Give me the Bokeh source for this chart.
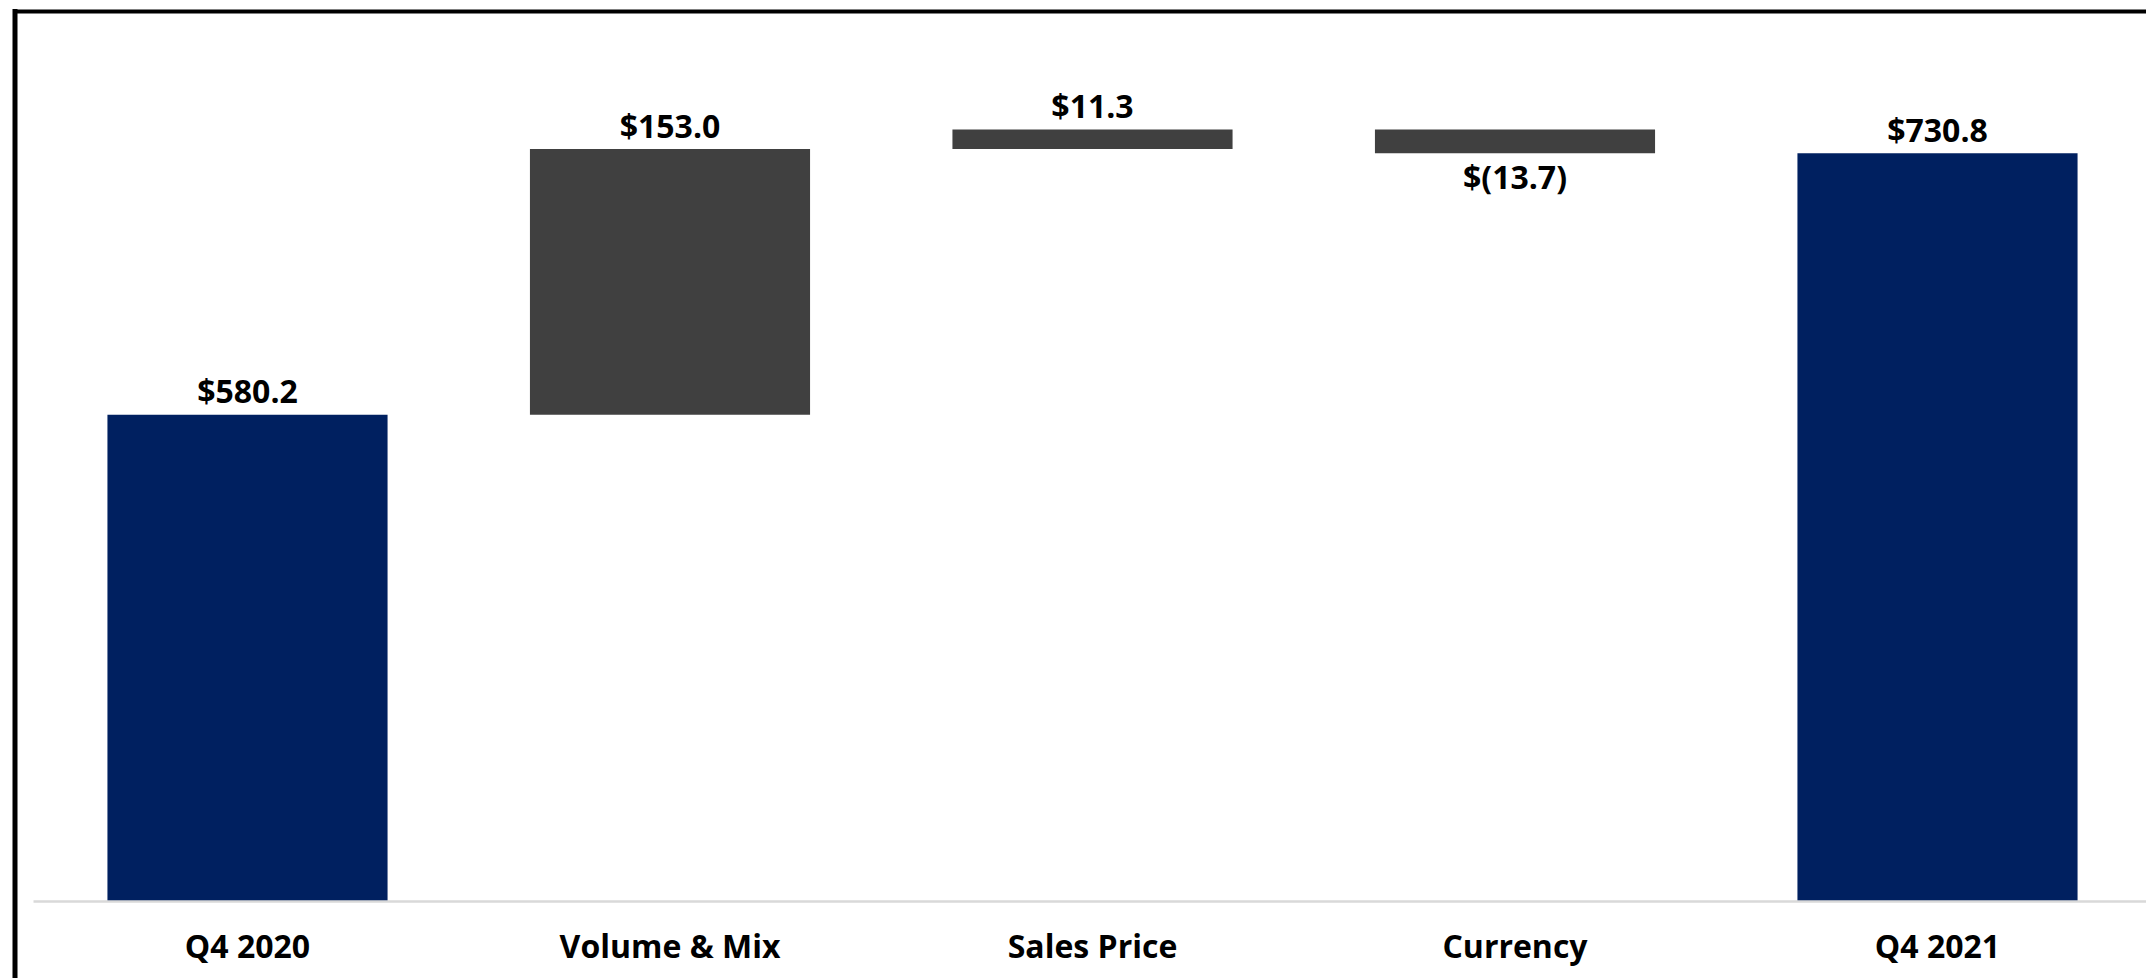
from bokeh.plotting import figure
from bokeh.models import Range1d, ColumnDataSource
from bokeh.core.properties import value
from bokeh.embed import file_html
from bokeh.resources import INLINE

# ---------------- data ----------------
categories = ["Q4 2020", "Volume & Mix", "Sales Price", "Currency", "Q4 2021"]
amounts = [580.2, 153.0, 11.3, -13.7, 730.8]
is_total = [True, False, False, False, True]
value_labels = ["$580.2", "$153.0", "$11.3", "$(13.7)", "$730.8"]
axis_min = 300.0

# ---------------- layout / style ----------------
W, H = 2146, 978
PX_PER_CAT = 422.5        # horizontal pixels per category
FIRST_CENTER_PX = 247.0   # first bar centre, from figure left
PX_PER_UNIT = 1.737       # vertical pixels per $
BASE_PX = 901.0           # axis minimum, from figure top
BAR_WIDTH = 0.663
TEXT_SHIFT = 12.0         # compensate renderer's baseline placement (px)
NAVY = "#002060"
GREY = "#404040"
FONT = value("Open Sans")
FONT_SIZE = "32px"

x_start = -FIRST_CENTER_PX / PX_PER_CAT
x_end = x_start + W / PX_PER_CAT
y_start = axis_min - (H - BASE_PX) / PX_PER_UNIT
y_end = axis_min + BASE_PX / PX_PER_UNIT

# ---------------- waterfall geometry ----------------
xs = list(range(len(categories)))
bottoms, tops = [], []
running = 0.0
for amt, tot in zip(amounts, is_total):
    if tot:
        bottoms.append(axis_min)
        tops.append(amt)
        running = amt
    else:
        b, t = running, running + amt
        bottoms.append(min(b, t))
        tops.append(max(b, t))
        running = t
colors = [NAVY if t else GREY for t in is_total]

label_y = []
for amt, b, t in zip(amounts, bottoms, tops):
    if amt >= 0:
        label_y.append(t + (12 + TEXT_SHIFT) / PX_PER_UNIT)
    else:
        label_y.append(b - (35 - TEXT_SHIFT) / PX_PER_UNIT)

src = ColumnDataSource(dict(x=xs, bottom=bottoms, top=tops, color=colors,
                            label=value_labels, ly=label_y, cat=categories,
                            cy=[axis_min - (56 - TEXT_SHIFT) / PX_PER_UNIT] * len(xs)))

p = figure(width=W, height=H, output_backend="svg", toolbar_location=None, tools="",
           x_range=Range1d(x_start, x_end), y_range=Range1d(y_start, y_end),
           x_axis_location=None, y_axis_location=None,
           min_border_left=0, min_border_right=0, min_border_top=0, min_border_bottom=0)
p.outline_line_color = None
p.xgrid.visible = False
p.ygrid.visible = False
p.background_fill_color = "white"
p.border_fill_color = "white"

p.vbar(x="x", width=BAR_WIDTH, bottom="bottom", top="top", fill_color="color",
       line_color=None, source=src)

# baseline (category axis line)
p.segment(x0=[x_start + 33 / PX_PER_CAT], y0=[axis_min], x1=[x_end], y1=[axis_min],
          line_color="#d9d9d9", line_width=2.5)

# value labels
p.text(x="x", y="ly", text="label", source=src, text_align="center",
       text_baseline="alphabetic", text_font=FONT, text_font_style="bold",
       text_font_size=FONT_SIZE, text_color="#000000")

# category labels
p.text(x="x", y="cy", text="cat", source=src, text_align="center",
       text_baseline="alphabetic", text_font=FONT, text_font_style="bold",
       text_font_size=FONT_SIZE, text_color="#000000")

# chart border (left and top)
xl = x_start + 14.5 / PX_PER_CAT
yt = y_end - 11 / PX_PER_UNIT
p.segment(x0=[xl], y0=[y_start], x1=[xl], y1=[yt], line_color="black",
          line_width=5, line_cap="square")
p.segment(x0=[xl], y0=[yt], x1=[x_end], y1=[yt], line_color="black",
          line_width=4, line_cap="square")

open("out.html", "w").write(file_html(p, INLINE))
